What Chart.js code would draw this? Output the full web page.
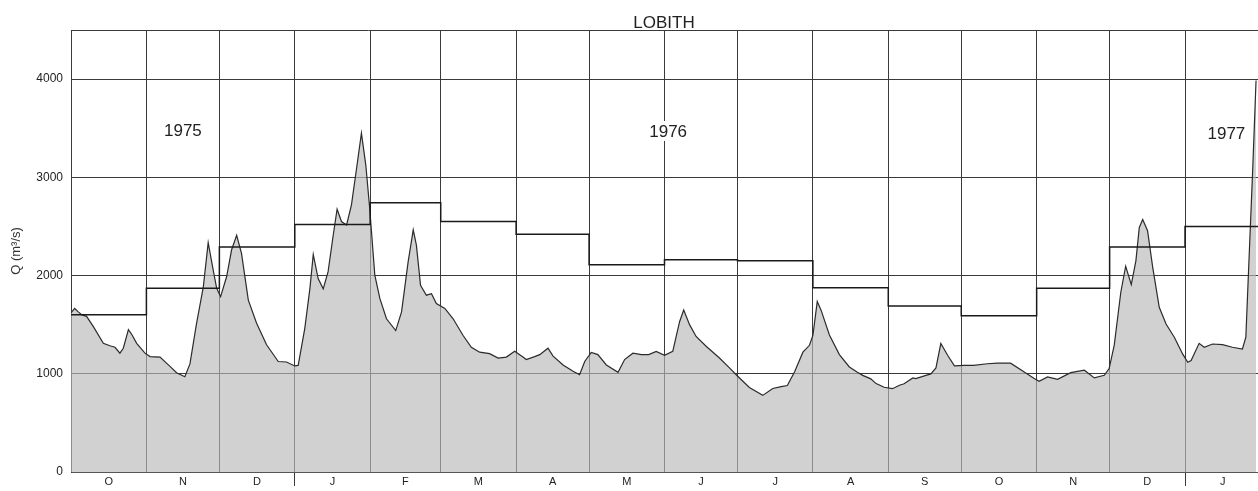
<!DOCTYPE html>
<html>
<head>
<meta charset="utf-8">
<title>Lobith</title>
<script src="https://cdn.jsdelivr.net/npm/chart.js@4/dist/chart.umd.min.js"></script>
<style>
  html, body { margin: 0; padding: 0; background: #fff; }
  #wrap { width: 1258px; height: 491px; position: relative; }
</style>
</head>
<body>
<div id="wrap"><canvas id="chart"></canvas></div>
<script>
// days counted from 1 Oct 1975
const monthStarts  = [0, 31, 61, 92, 123, 152, 183, 213, 244, 274, 305, 336, 366, 397, 427, 458, 489];
const monthLetters = ['O', 'N', 'D', 'J', 'F', 'M', 'A', 'M', 'J', 'J', 'A', 'S', 'O', 'N', 'D', 'J'];
const monthlyMeans = [1600, 1870, 2290, 2520, 2740, 2550, 2420, 2110, 2160, 2150, 1875, 1690, 1590, 1870, 2290, 2500];
const yearStarts   = [92, 458];

const yTicks = [0, 1000, 2000, 3000, 4000];
const yMax = 4500;
const xMax = 488;

// discharge Q (m3/s)
const flowDays = [
  0, 1.5, 3, 4.5, 6.4, 9.2, 13.3, 16, 18.1, 20.1, 21.5, 23.6, 25, 27, 30.4,
  32.5, 36.6, 40.7, 43.4, 46.8, 48.9, 51.6, 54.4, 56.4, 58.5, 59.9, 61.5,
  64, 66, 68.1, 70.1, 72.9, 76.3, 80.4, 85.2, 88.6, 92,
  93.4, 96.1, 98.2, 99.6, 101.6, 103.7, 105.7, 107.8, 109.4, 111.2, 113.3, 115.3, 117.4, 119.4, 121.2,
  122.8, 124.9, 127, 129.7, 133.5, 135.9, 138.6, 140.7, 142, 143.7, 146.1, 148.2, 150.2,
  153.7, 157.1, 161.2, 164.6, 168, 172.1, 175.6, 179, 182.4,
  185.8, 187.2, 190.6, 192.7, 196.1, 198.2, 202.3, 206.4, 209.1, 211.2,
  213.9, 216.6, 220.1, 224.9, 227.6, 231, 234.5, 237.5, 240.6, 244,
  247.4, 250.2, 251.9, 254.3, 257, 261.1, 266.6, 270.7, 274.1,
  278.9, 284.4, 288.5, 292, 294.5, 297.5, 300.9, 303.6, 305,
  306.8, 308.4, 311.8, 315.9, 320, 323.3, 325.5, 328.8, 331, 334.3,
  337.7, 340.6, 342.5, 346.1, 347.3, 351.5, 353.5, 355.6, 357.6, 360.4, 363.2,
  367.2, 371, 376.8, 380.9, 386.3, 391.9, 396,
  398, 401.5, 405.6, 411, 416.6, 420.7, 424.8, 426.8,
  428.9, 431.6, 433.6, 435.9, 437.8, 439.2, 440.6, 442.6, 444.7, 447.4, 450.2, 453.6, 457,
  459.1, 460.5, 463.8, 465.9, 469.3, 473.4, 477.5, 481.6, 483, 484.4, 485.8, 487.2
];
const flowValues = [
  1620, 1665, 1630, 1600, 1585, 1480, 1310, 1285, 1270, 1210, 1260, 1450, 1400, 1310, 1210,
  1175, 1170, 1075, 1010, 970, 1100, 1510, 1885, 2335, 2050, 1870, 1785,
  1990, 2260, 2410, 2225, 1750, 1515, 1295, 1125, 1120, 1080,
  1085, 1460, 1865, 2215, 1970, 1865, 2040, 2410, 2675, 2550, 2515, 2720, 3090, 3450, 3125,
  2685, 2005, 1765, 1560, 1440, 1630, 2140, 2465, 2310, 1900, 1800, 1815, 1715,
  1665, 1560, 1390, 1270, 1220, 1205, 1160, 1170, 1230,
  1170, 1145, 1175, 1195, 1260, 1180, 1090, 1025, 990, 1125,
  1218, 1195, 1090, 1015, 1145, 1210, 1195, 1195, 1228, 1187,
  1228, 1530, 1650, 1500, 1380, 1280, 1160, 1060, 975,
  860, 780, 850, 870, 880, 1020, 1220, 1290, 1390,
  1735, 1645, 1395, 1195, 1069, 1016, 984, 948, 900, 863,
  848, 883, 898, 957, 950, 984, 999, 1060, 1308, 1188, 1080,
  1085, 1085, 1102, 1108, 1108, 1019, 951,
  924, 968, 944, 1012, 1036, 958, 985, 1053,
  1291, 1830, 2095, 1908, 2150, 2490, 2570, 2457, 2085, 1677, 1507, 1372, 1202,
  1117, 1134, 1310, 1270, 1303, 1297, 1270, 1252, 1372, 2220, 3068, 3985
];

const yearLabels      = ['1975', '1976', '1977'];
const yearLabelDays   = [46, 245.5, 475];
const yearLabelLevels = [3480, 3472, 3450];

const chartTitle    = 'LOBITH';
const chartTitleDay = 243.8;

const GRID = '#3a3a3a';
const FONT = '"Liberation Sans", Arial, sans-serif';

const monthMids = monthStarts.slice(0, -1).map((d, i) => (d + monthStarts[i + 1]) / 2);

const flowPoints = flowDays.map((d, i) => ({ x: d, y: flowValues[i] }));
const meanPoints = monthlyMeans.map((v, i) => ({ x: monthStarts[i], y: v }));
meanPoints.push({ x: monthStarts[monthStarts.length - 1], y: monthlyMeans[monthlyMeans.length - 1] });

// station name above the frame and the year marks inside it
const annotations = {
  id: 'annotations',
  afterDatasetsDraw(chart) {
    const { ctx, chartArea, scales: { x, y } } = chart;
    ctx.save();
    ctx.font = '17px ' + FONT;
    ctx.textAlign = 'center';

    ctx.textBaseline = 'alphabetic';
    ctx.fillStyle = '#222';
    ctx.fillText(chartTitle, x.getPixelForValue(chartTitleDay), chartArea.top - 2);

    ctx.textBaseline = 'middle';
    yearLabels.forEach((t, i) => {
      const px = x.getPixelForValue(yearLabelDays[i]);
      const py = y.getPixelForValue(yearLabelLevels[i]);
      const w = ctx.measureText(t).width;
      ctx.fillStyle = '#fff';
      ctx.fillRect(px - w / 2 - 4, py - 10, w + 8, 20);
      ctx.fillStyle = '#222';
      ctx.fillText(t, px, py + 1);
    });
    ctx.restore();
  }
};

new Chart(document.getElementById('chart'), {
  type: 'line',
  data: {
    datasets: [
      {
        label: 'monthly mean',
        data: meanPoints,
        stepped: 'before',
        borderColor: '#1a1a1a',
        borderWidth: 1.5,
        pointRadius: 0,
        fill: false,
        order: 0,
      },
      {
        label: 'Q',
        data: flowPoints,
        borderColor: '#2b2b2b',
        borderWidth: 1.2,
        backgroundColor: 'rgba(185,185,185,0.65)',
        fill: 'origin',
        pointRadius: 0,
        tension: 0,
        order: 1,
      }
    ]
  },
  options: {
    responsive: true,
    maintainAspectRatio: false,
    animation: false,
    layout: { padding: { top: 30 } },
    plugins: {
      legend: { display: false },
      tooltip: { enabled: false },
      title: { display: false }
    },
    scales: {
      x: {
        type: 'linear',
        min: 0,
        max: xMax,
        afterBuildTicks: scale => {
          const vals = monthStarts.concat(monthMids).filter(v => v <= xMax).sort((a, b) => a - b);
          scale.ticks = vals.map(v => ({ value: v }));
        },
        afterFit: scale => { scale.height = 19; },
        grid: {
          color: c => monthStarts.includes(c.tick.value) ? GRID : 'rgba(0,0,0,0)',
          tickColor: c => yearStarts.includes(c.tick.value) ? GRID : 'rgba(0,0,0,0)',
          tickLength: 14,
          lineWidth: 1,
        },
        border: { display: true, color: '#555', width: 1 },
        ticks: {
          autoSkip: false,
          maxRotation: 0,
          padding: -11,
          color: '#222',
          font: { family: FONT, size: 11 },
          callback: v => {
            const i = monthMids.indexOf(v);
            return i >= 0 ? monthLetters[i] : '';
          }
        }
      },
      y: {
        min: 0,
        max: yMax,
        afterBuildTicks: scale => {
          scale.ticks = yTicks.concat([yMax]).map(v => ({ value: v }));
        },
        afterFit: scale => { scale.width = 71; },
        grid: { color: GRID, lineWidth: 1, drawTicks: false },
        border: { display: true, color: GRID, width: 1 },
        ticks: {
          padding: 8,
          color: '#222',
          font: { family: FONT, size: 12 },
          callback: v => v === yMax ? '' : String(v)
        },
        title: {
          display: true,
          text: 'Q (m³/s)',
          color: '#333',
          font: { family: FONT, size: 13 },
          padding: { top: 9, bottom: 0 }
        }
      }
    }
  },
  plugins: [annotations]
});
</script>
</body>
</html>
